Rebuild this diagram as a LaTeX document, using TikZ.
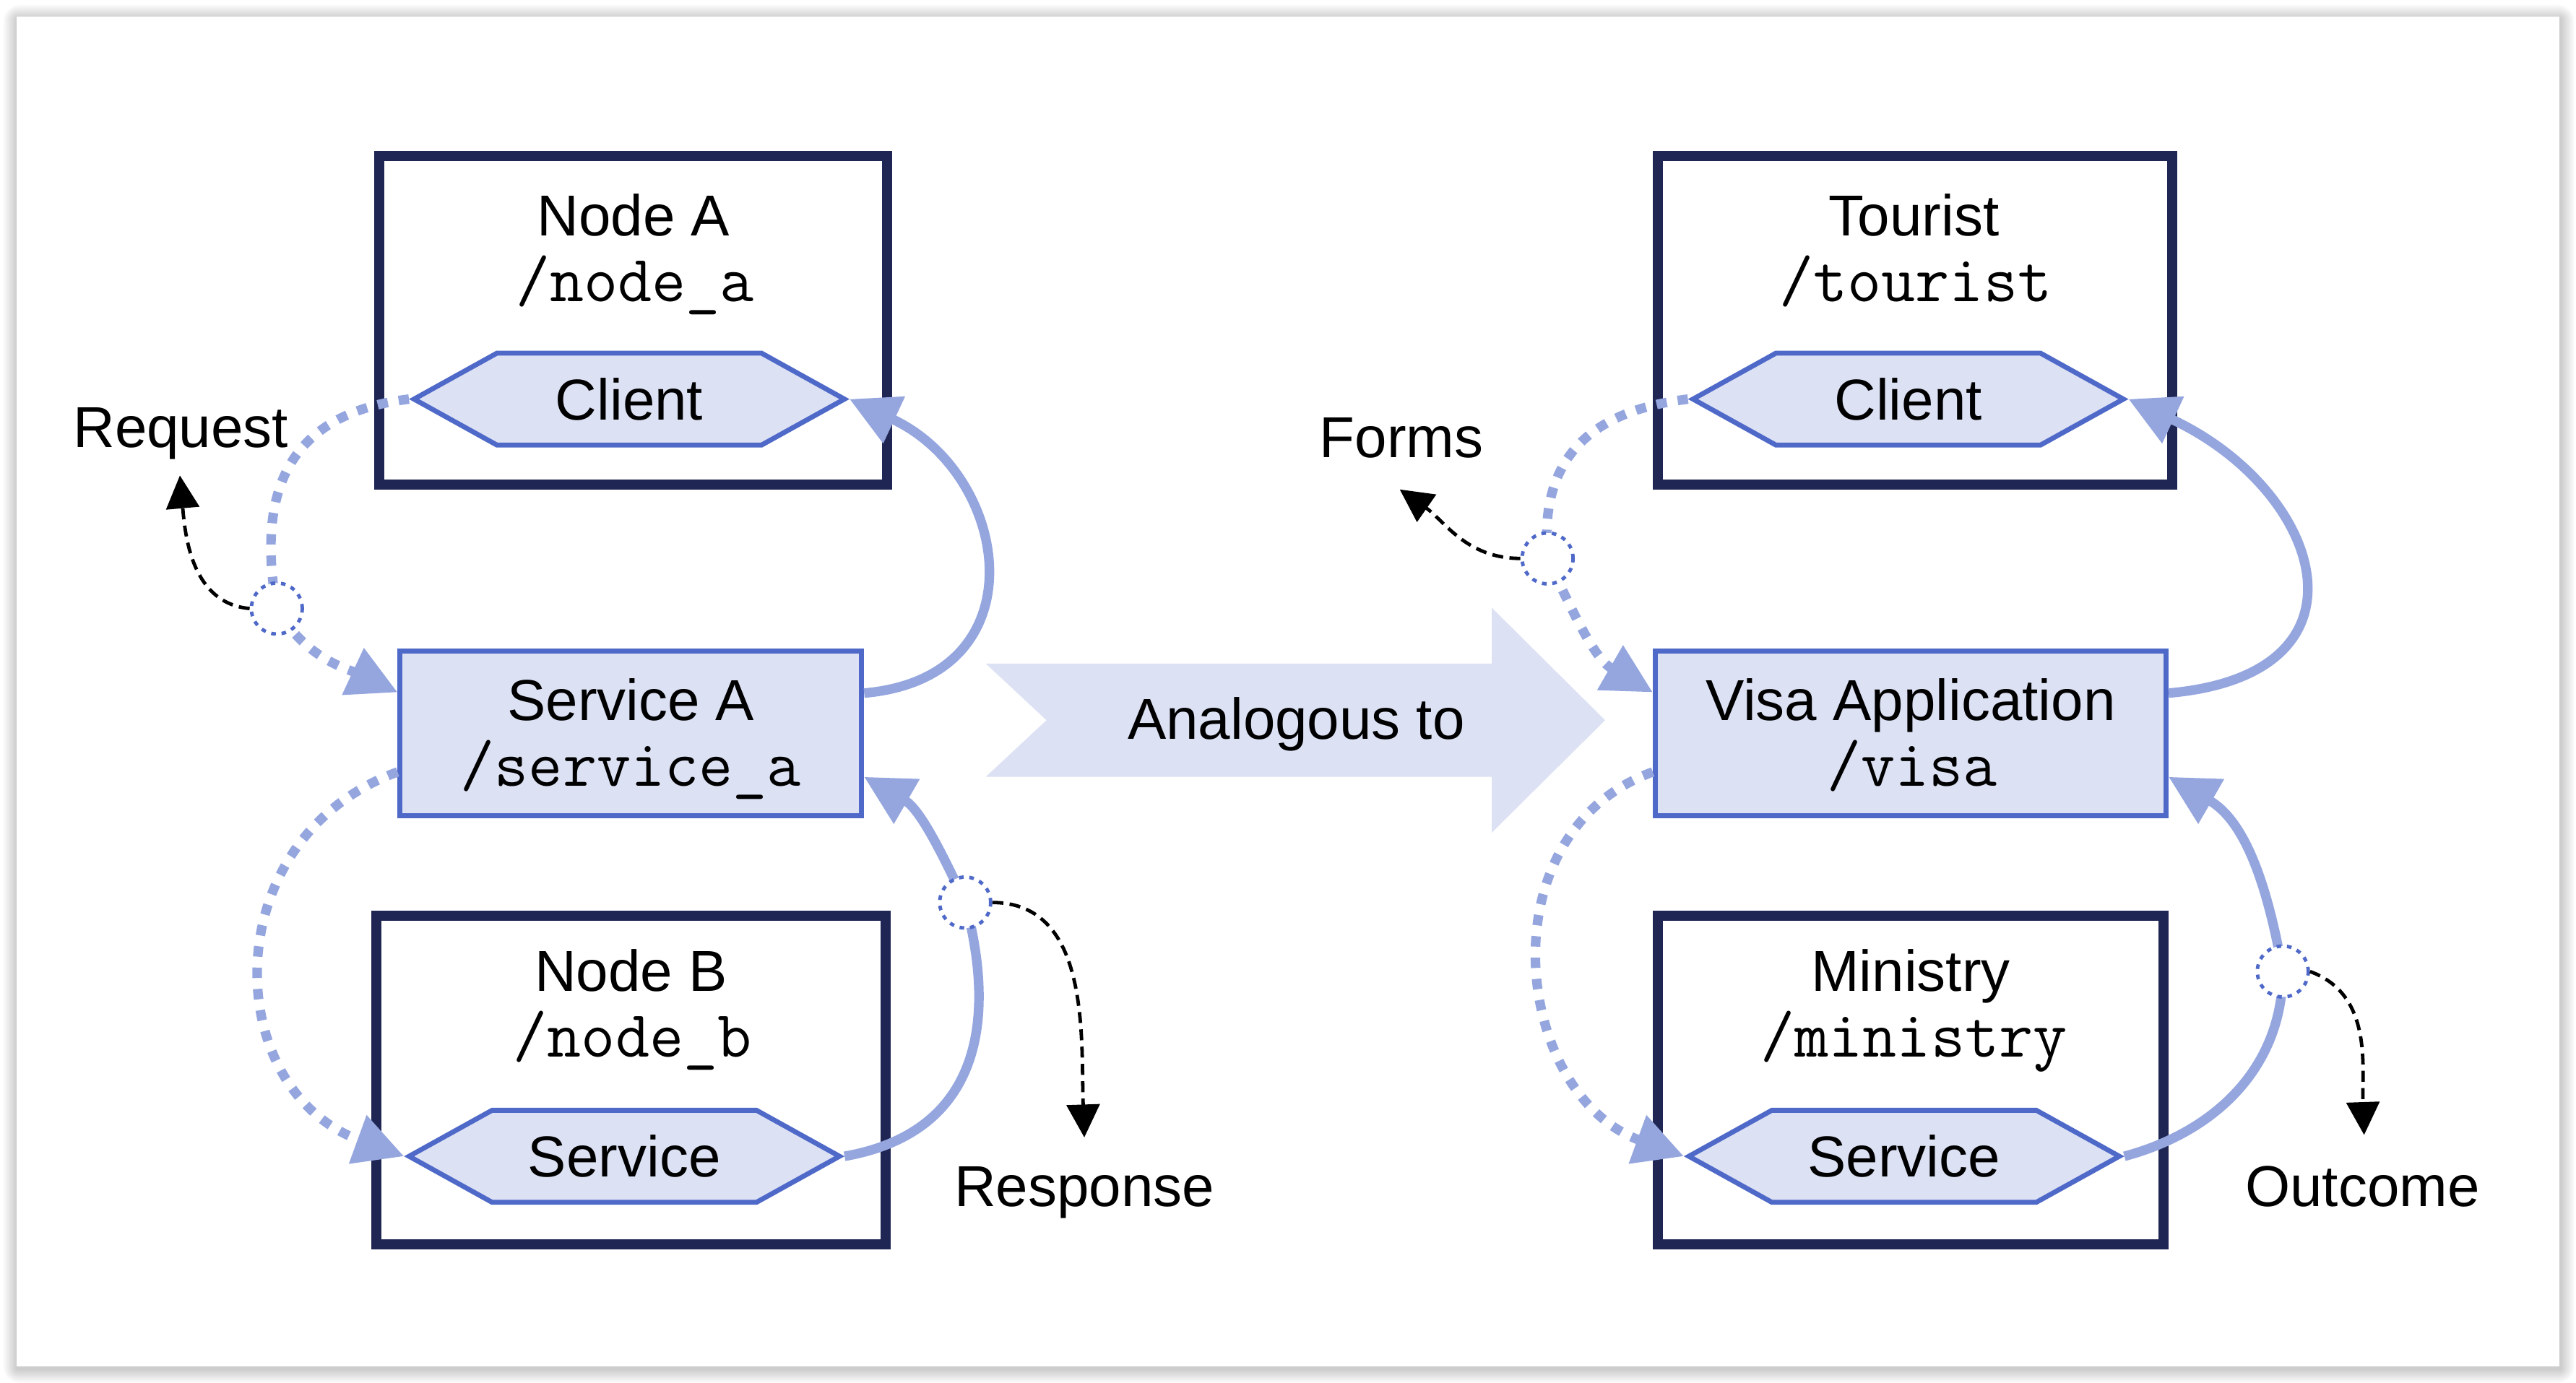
\documentclass[tikz,border=0pt]{standalone}
\usepackage{fontspec}
\setmainfont{Liberation Sans}
\usetikzlibrary{arrows.meta,shapes.symbols}

\definecolor{hostnavy}{HTML}{1F2653}
\definecolor{svcfill}{HTML}{DCE1F4}
\definecolor{svcline}{HTML}{4F69C9}
\definecolor{linkblue}{HTML}{95A6DF}

\begin{document}
\begin{tikzpicture}[
        font=\fontsize{20}{24}\selectfont,
        host/.style={rectangle, draw=hostnavy, line width=3.5pt, minimum width=6.2cm, minimum height=4cm},
        svcbox/.style={rectangle, draw=svcline, fill=svcfill, line width=1.7pt, minimum height=2cm},
        port/.style={signal, signal to=west and east, signal pointer angle=58, draw=svcline, fill=svcfill, line width=1.7pt, minimum width=5.24cm, minimum height=1.12cm, inner sep=0pt},
        tap/.style={circle, draw=svcline, fill=white, line width=1.2pt, dash pattern=on 1.6pt off 2pt, minimum size=.62cm, inner sep=0pt},
        heading/.style={anchor=base},
        topic/.style={anchor=base, font=\fontsize{22.9}{26}\selectfont\ttfamily},
        call/.style={line width=3.3pt, draw=linkblue, dash pattern=on 3.6pt off 3.8pt, -{Triangle[length=.6cm, width=.6cm]}},
        reply/.style={line width=3.3pt, draw=linkblue, -{Triangle[length=.6cm, width=.6cm]}},
        peek/.style={line width=1.2pt, dash pattern=on 3.8pt off 2.2pt, -{Triangle[length=.4cm, width=.4cm]}}
    ]
    \useasboundingbox (0,0) rectangle (31.36,-16.84);
    \fill[white] (0,0) rectangle (31.36,-16.84);
    % soft shadow and panel
    \foreach \s in {1,...,10}
        \fill[black, opacity=.018, rounded corners=\s*.2mm] (0.21-\s*.017,-0.23+\s*.017) rectangle (31.17+\s*.017,-16.67-\s*.017);
    \fill[white] (0.2,-0.2) rectangle (31.16,-16.64);

    % analogy arrow
    \fill[svcfill] (12.0,-8.08) -- (18.16,-8.08) -- (18.16,-7.4) -- (19.54,-8.77) -- (18.16,-10.14) -- (18.16,-9.46) -- (12.0,-9.46) -- (12.74,-8.77) -- cycle;
    \node[heading] (analogy) at (15.78,-9.0) {Analogous to};

    % left: ROS side
    \node[host, minimum width=6.18cm] (nodeA) at (7.71,-3.9) {};
    \node[heading] (nodeAname) at (7.71,-2.87) {Node A};
    \node[topic] (nodeAtopic) at (7.73,-3.67) {/node\_a};
    \node[port] (cliA) at (7.66,-4.86) {Client};

    \node[svcbox, minimum width=5.62cm] (svcA) at (7.68,-8.93) {};
    \node[heading] (svcAname) at (7.68,-8.77) {Service A};
    \node[topic] (svcAtopic) at (7.68,-9.57) {/service\_a};

    \node[host] (nodeB) at (7.68,-13.15) {};
    \node[heading] (nodeBname) at (7.68,-12.07) {Node B};
    \node[topic] (nodeBtopic) at (7.7,-12.87) {/node\_b};
    \node[port] (svcB) at (7.6,-14.08) {Service};

    % right: visa side
    \node[host, minimum width=6.26cm] (tourist) at (23.31,-3.9) {};
    \node[heading] (touristname) at (23.3,-2.87) {Tourist};
    \node[topic] (touristtopic) at (23.32,-3.67) {/tourist};
    \node[port] (cliT) at (23.23,-4.86) {Client};

    \node[svcbox, minimum width=6.22cm] (visa) at (23.26,-8.93) {};
    \node[heading] (visaname) at (23.26,-8.77) {Visa Application};
    \node[topic] (visatopic) at (23.28,-9.57) {/visa};

    \node[host, minimum width=6.16cm] (ministry) at (23.26,-13.15) {};
    \node[heading] (ministryname) at (23.26,-12.07) {Ministry};
    \node[topic] (ministrytopic) at (23.3,-12.87) {/ministry};
    \node[port] (svcM) at (23.18,-14.08) {Service};

    % taps on the links
    \coordinate (reqTap) at (3.37,-7.41);
    \coordinate (respTap) at (11.75,-10.99);
    \coordinate (formTap) at (18.84,-6.8);
    \coordinate (outTap) at (27.79,-11.83);

    \draw[call] (cliA.west) to[out=187, in=100, looseness=1.25] (reqTap) to[out=-60, in=155] ([yshift=.5cm]svcA.west);
    \draw[reply] ([yshift=.49cm]svcA.east) to[out=5, in=-25, looseness=1.55] (cliA.east);
    \draw[call] ([yshift=-.47cm]svcA.west) to[out=200, in=160, looseness=1.3] (svcB.west);
    \draw[reply] (svcB.east) to[out=10, in=-75, looseness=1.2] (respTap) to[out=115, in=-30] ([yshift=-.53cm]svcA.east);

    \draw[call] (cliT.west) to[out=187, in=95, looseness=1.2] (formTap) to[out=-65, in=150] ([yshift=.5cm]visa.west);
    \draw[reply] ([yshift=.49cm]visa.east) to[out=5, in=-25, looseness=1.85] (cliT.east);
    \draw[call] ([yshift=-.47cm]visa.west) to[out=200, in=160, looseness=1.2] (svcM.west);
    \draw[reply] (svcM.east) to[out=15, in=-90] (outTap) to[out=100, in=-30] ([yshift=-.53cm]visa.east);

    \node[tap] (reqDot) at (reqTap) {};
    \node[tap] (respDot) at (respTap) {};
    \node[tap] (formDot) at (formTap) {};
    \node[tap] (outDot) at (outTap) {};

    % what is observed
    \node[heading] (request) at (2.2,-5.45) {Request};
    \node[heading] (response) at (13.2,-14.69) {Response};
    \node[heading] (forms) at (17.06,-5.57) {Forms};
    \node[heading] (outcome) at (28.76,-14.69) {Outcome};

    \coordinate (reqTip) at (2.19,-5.79);
    \coordinate (respTip) at (13.2,-13.85);
    \coordinate (formTip) at (17.04,-5.96);
    \coordinate (outTip) at (28.78,-13.82);

    \draw[peek] (reqDot.west) to[out=175, in=-85] (reqTip);
    \draw[peek] (respDot.east) to[out=0, in=92] (respTip);
    \draw[peek] (formDot.west) to[out=180, in=-35] (formTip);
    \draw[peek] (outDot.east) to[out=-20, in=92] (outTip);
\end{tikzpicture}
\end{document}
